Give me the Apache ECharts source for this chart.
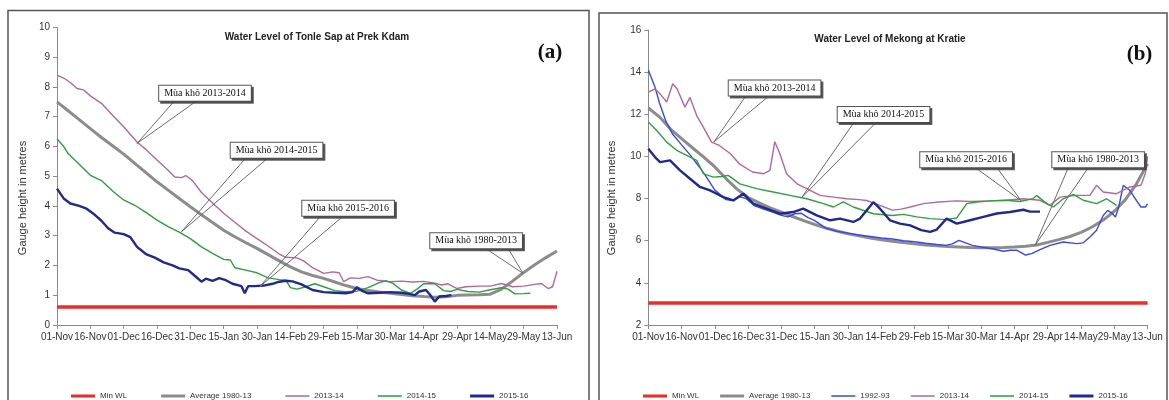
<!DOCTYPE html>
<html><head><meta charset="utf-8">
<script src="https://cdn.jsdelivr.net/npm/echarts@6/dist/echarts.min.js"></script>
<style>html,body{margin:0;padding:0;background:#fff}#c{width:1169px;height:400px}</style>
</head><body><div id="c"></div>
<script>
// ---- tick labels (x axis days from 01-Nov, every 15 days) ----
const tickLabels = ['01-Nov','16-Nov','01-Dec','16-Dec','31-Dec','15-Jan','30-Jan','14-Feb','29-Feb','15-Mar','30-Mar','14-Apr','29-Apr','14-May','29-May','13-Jun'];

// ---- (a) Tonle Sap at Prek Kdam : [day, metres] ----
const minWL_A = [[0,0.6],[225,0.6]];
const avg_A = [[0,7.5],[5,7.2],[10,6.9],[15,6.6],[20,6.3],[25,6.02],[30,5.74],[35,5.43],[40,5.12],[45,4.81],[50,4.53],[55,4.25],[60,3.97],[65,3.7],[70,3.44],[75,3.18],[80,2.96],[85,2.76],[90,2.57],[95,2.36],[100,2.15],[105,1.95],[110,1.78],[115,1.66],[120,1.56],[125,1.44],[130,1.32],[135,1.22],[140,1.15],[145,1.1],[150,1.06],[155,1.02],[160,0.98],[165,0.95],[170,0.93],[175,0.94],[180,0.99],[185,1.0],[190,1.01],[195,1.03],[200,1.2],[205,1.47],[210,1.76],[215,2.02],[220,2.26],[225,2.48]];
const y1314_A = [[0,8.4],[3,8.3],[6,8.15],[9,7.95],[12,7.9],[15,7.7],[20,7.45],[25,7.05],[30,6.66],[36,6.15],[40,5.9],[45,5.54],[50,5.2],[53,4.97],[56,4.95],[58,5.02],[61,4.85],[65,4.45],[70,4.1],[75,3.75],[80,3.45],[85,3.15],[90,2.9],[95,2.65],[100,2.38],[103,2.27],[108,2.25],[111,2.15],[115,1.92],[120,1.73],[124,1.78],[127,1.75],[129,1.45],[132,1.58],[136,1.56],[140,1.62],[144,1.5],[150,1.45],[155,1.47],[160,1.44],[165,1.46],[170,1.4],[173,1.34],[176,1.38],[180,1.22],[184,1.28],[190,1.3],[195,1.3],[200,1.39],[205,1.28],[210,1.3],[215,1.36],[218,1.39],[221,1.22],[223,1.28],[225,1.8]];
const y1415_A = [[0,6.26],[3,6.0],[5,5.76],[10,5.4],[15,5.03],[20,4.85],[25,4.5],[30,4.2],[35,4.02],[40,3.78],[45,3.52],[50,3.3],[55,3.12],[60,2.9],[65,2.62],[70,2.4],[75,2.2],[78,2.18],[80,1.92],[85,1.84],[90,1.75],[95,1.58],[100,1.52],[103,1.5],[105,1.25],[108,1.2],[112,1.28],[116,1.38],[120,1.28],[125,1.15],[130,1.11],[135,1.13],[140,1.25],[145,1.42],[148,1.48],[151,1.4],[155,1.17],[159,1.06],[162,1.2],[165,1.38],[170,1.38],[174,1.15],[177,1.12],[180,1.19],[185,1.12],[190,1.1],[195,1.18],[200,1.25],[203,1.2],[206,1.04],[210,1.05],[213,1.06]];
const y1516_A = [[0,4.58],[3,4.25],[6,4.08],[10,4.0],[13,3.92],[17,3.7],[20,3.5],[23,3.25],[26,3.1],[30,3.05],[33,2.95],[36,2.62],[40,2.38],[44,2.26],[48,2.1],[52,2.0],[55,1.9],[59,1.84],[62,1.65],[65,1.45],[67,1.55],[70,1.48],[73,1.57],[76,1.5],[79,1.38],[83,1.3],[84.5,1.06],[86,1.3],[89,1.3],[93,1.32],[97,1.38],[100,1.45],[103,1.48],[106,1.46],[110,1.36],[115,1.17],[120,1.1],[125,1.08],[130,1.06],[133,1.1],[135,1.26],[137,1.15],[140,1.06],[145,1.08],[150,1.1],[155,1.08],[158,1.05],[161,1.0],[163,1.12],[166,1.17],[168,1.0],[170,0.78],[172,0.95],[175,0.97],[177.5,1.0]];

// ---- (b) Mekong at Kratie : [day, metres] ----
const minWL_B = [[0,3.05],[225,3.05]];
const avg_B = [[0,12.3],[5,11.88],[10,11.3],[15,10.85],[20,10.4],[25,9.97],[30,9.5],[35,8.95],[40,8.45],[45,8.05],[50,7.8],[55,7.56],[60,7.36],[65,7.15],[70,6.95],[75,6.77],[80,6.6],[85,6.46],[90,6.33],[95,6.23],[100,6.13],[105,6.05],[110,5.97],[115,5.91],[120,5.85],[125,5.8],[130,5.76],[135,5.72],[140,5.7],[145,5.68],[150,5.67],[155,5.67],[160,5.68],[165,5.7],[170,5.74],[175,5.8],[180,5.92],[185,6.05],[190,6.2],[195,6.4],[200,6.65],[205,6.98],[210,7.4],[215,7.95],[220,8.7],[225,9.65]];
const y9293_B = [[0,14.1],[3,13.3],[5,12.55],[8,11.65],[11,11.05],[15,10.55],[19,10.05],[23,9.5],[26,9.05],[30,8.4],[35,7.95],[38,7.9],[41,8.1],[44,8.0],[48,7.65],[52,7.5],[56,7.36],[60,7.2],[63,7.13],[66,7.28],[69,7.3],[72,7.1],[75,6.95],[80,6.6],[85,6.45],[90,6.36],[95,6.27],[100,6.2],[105,6.13],[110,6.08],[115,6.0],[120,5.95],[125,5.88],[130,5.82],[134,5.78],[137,5.85],[140,6.02],[143,5.9],[146,5.78],[150,5.7],[155,5.62],[160,5.5],[163,5.55],[166,5.55],[170,5.32],[173,5.4],[176,5.55],[181,5.78],[187,5.94],[193,5.86],[196,5.9],[199,6.18],[202,6.5],[205,7.2],[207,7.44],[209,7.3],[210.5,7.13],[212,7.6],[214,8.63],[217,8.39],[220,7.9],[222,7.6],[224,7.6],[225,7.75]];
const y1314_B = [[0,13.05],[3,13.2],[5.3,12.97],[8.3,12.58],[11,13.45],[13,13.2],[16.5,12.34],[18.8,12.8],[21.8,11.94],[24.8,11.39],[28.5,10.68],[32,10.52],[37,10.13],[41,9.65],[47,9.26],[52,9.18],[54.8,9.34],[57,10.7],[59.3,10.13],[62.3,9.18],[67,8.7],[71.4,8.47],[77.4,8.15],[83.4,8.07],[89.4,7.99],[95,7.95],[98.4,7.91],[104.4,7.68],[110,7.45],[114,7.5],[118,7.6],[124,7.76],[131,7.84],[139,7.89],[145,7.86],[154,7.89],[161.5,7.92],[169,7.99],[176.5,7.92],[181,7.68],[185.5,8.07],[193,8.15],[199,8.15],[202,8.63],[205,8.31],[211,8.23],[217,8.55],[222,8.63],[224,9.2],[225,10.0]];
const y1415_B = [[0,11.63],[3.8,11.23],[8.3,10.68],[12.8,10.29],[17.3,10.05],[21.8,9.81],[24.8,9.18],[29.3,9.02],[33,9.05],[36,9.1],[41.3,8.7],[48.8,8.47],[56.3,8.31],[63.8,8.15],[71.4,7.99],[78.9,7.76],[83.4,7.6],[87.9,7.84],[92.4,7.6],[101.4,7.28],[110,7.2],[115,7.25],[121,7.13],[127,7.05],[134,7.0],[139,7.08],[143.5,7.76],[148,7.84],[154,7.89],[161.5,7.92],[167.5,7.86],[173.5,8.0],[175,8.15],[179.5,7.76],[182.5,7.6],[187,7.99],[191.5,8.2],[196,7.92],[202,7.76],[206.5,7.99],[211,7.68]];
const y1516_B = [[0,10.36],[3,9.97],[5.3,9.73],[9.8,9.81],[14.3,9.34],[18.8,8.94],[23.3,8.55],[27.8,8.39],[30.8,8.23],[33.8,8.07],[38.3,7.91],[42.8,8.23],[47.3,7.76],[53.3,7.52],[59.3,7.28],[65.3,7.36],[69.8,7.52],[75.9,7.2],[81.9,6.97],[86.4,7.05],[92.4,6.89],[95.4,7.05],[101.4,7.83],[104.4,7.52],[108.9,6.97],[113.4,6.81],[118,6.73],[123,6.5],[127,6.42],[130,6.53],[134.4,7.05],[139,6.81],[145,6.97],[151,7.13],[157,7.29],[163,7.36],[169,7.47],[172,7.38],[176.5,7.38]];

// ---- callout annotations (data coordinates) ----
const notesA = [
  {text:'Mùa khô 2013-2014', box:[66.6,7.79], from:[[53.1,7.55],[63.2,7.55]], to:[36,6.1]},
  {text:'Mùa khô 2014-2015', box:[98.8,5.87], from:[[85.3,5.64],[95.4,5.64]], to:[56,3.13]},
  {text:'Mùa khô 2015-2016', box:[131,3.92], from:[[118.4,3.63],[128.4,3.63]], to:[91.2,1.28]},
  {text:'Mùa khô 1980-2013', box:[188.6,2.83], from:[[192.8,2.57],[203,2.57]], to:[209.7,1.73]}
];
const notesB = [
  {text:'Mùa khô 2013-2014', box:[56.9,13.25], from:[[43.6,12.81],[53.7,12.81]], to:[29.5,10.68]},
  {text:'Mùa khô 2014-2015', box:[106,11.99], from:[[92.8,11.63],[102.8,11.63]], to:[69.1,8.04]},
  {text:'Mùa khô 2015-2016', box:[143.2,9.84], from:[[146.9,9.5],[156.9,9.5]], to:[168,7.9]},
  {text:'Mùa khô 1980-2013', box:[202.7,9.84], from:[[189.4,9.5],[198.5,9.5]], to:[174.3,5.78]}
];

const SANS = 'Liberation Sans, Arial, sans-serif';
const SERIF = 'Liberation Serif, Times New Roman, serif';
const C = {min:'#ee2b2b', avg:'#8c8c8c', p:'#b4679a', g:'#2f9e3c', b:'#1f2a8e', lb:'#3b48e8'};
// legend line icons: thick / thin bar centred in the 24x8 icon box
const THICK = 'path://M0,0h24v0.01h-24z M0,2.6h24v2.8h-24z M0,7.99h24v0.01h-24z';
const THIN = 'path://M0,0h24v0.01h-24z M0,3.2h24v1.6h-24z M0,7.99h24v0.01h-24z';
const iconOf = {'Min WL':THICK,'Average 1980-13':THICK,'1992-93':THIN,'2013-14':THIN,'2014-15':THIN,'2015-16':THICK};

function xAx(gi){
  return {type:'value', gridIndex:gi, min:0, max:225, interval:15,
    axisLine:{show:true,lineStyle:{color:'#8a8a8a',width:1}},
    axisTick:{show:true,length:4,lineStyle:{color:'#8a8a8a'}},
    splitLine:{show:false},
    axisLabel:{margin:7,fontSize:10,color:'#333',fontFamily:SANS,formatter:v=>tickLabels[Math.round(v/15)]||''}};
}
function yAx(gi,min,max,iv){
  return {type:'value', gridIndex:gi, min:min, max:max, interval:iv,
    axisLine:{show:true,lineStyle:{color:'#8a8a8a',width:1}},
    axisTick:{show:true,length:4,lineStyle:{color:'#8a8a8a'}},
    splitLine:{show:false},
    axisLabel:{margin:7,fontSize:10,color:'#333',fontFamily:SANS}};
}
function ln(name,data,color,w,gi){
  return {type:'line',name:name,data:data,xAxisIndex:gi,yAxisIndex:gi,symbol:'none',
    lineStyle:{color:color,width:w},itemStyle:{color:color},animation:false};
}
function notes(list,gi){
  return {type:'line',name:'_n'+gi,data:[],xAxisIndex:gi,yAxisIndex:gi,z:20,animation:false,
    markLine:{silent:true,symbol:['none','none'],label:{show:false},animation:false,
      lineStyle:{color:'#6a6a6a',width:1,type:'solid'},
      data:list.flatMap(n=>n.from.map(f=>[{coord:f},{coord:n.to}]))},
    markPoint:{silent:true,animation:false,
      data:list.map(n=>({coord:n.box,symbol:'rect',symbolSize:1,itemStyle:{color:'rgba(0,0,0,0)'},
        label:{show:true,position:'inside',formatter:n.text,fontFamily:SERIF,fontSize:10,color:'#111',
          backgroundColor:'#fff',borderColor:'#555',borderWidth:1,padding:[2,5,2,5],lineHeight:11,
          shadowColor:'rgba(70,70,70,0.85)',shadowOffsetX:2,shadowOffsetY:2,shadowBlur:0}}))}};
}
function legendOf(names,left,gap){
  return {data:names.map(n=>({name:n,icon:iconOf[n]})),left:left,top:387,itemGap:gap,itemWidth:24,itemHeight:8,
    textStyle:{fontSize:8,color:'#333',fontFamily:SANS},selectedMode:false};
}

const chart = echarts.init(document.getElementById('c'));
chart.setOption({
  animation:false,
  title:[
    {text:'Water Level of Tonle Sap at Prek Kdam',left:317,top:32,textAlign:'center',padding:0,
     textStyle:{fontSize:10,fontWeight:'bold',color:'#222',fontFamily:SANS}},
    {text:'Water Level of Mekong at Kratie',left:890,top:34,textAlign:'center',padding:0,
     textStyle:{fontSize:10,fontWeight:'bold',color:'#222',fontFamily:SANS}}
  ],
  grid:[
    {left:57,top:27.5,width:500,height:297.3},
    {left:648.3,top:30,width:499.3,height:295}
  ],
  xAxis:[xAx(0),xAx(1)],
  yAxis:[yAx(0,0,10,1),yAx(1,2,16,2)],
  legend:[
    legendOf(['Min WL','Average 1980-13','2013-14','2014-15','2015-16'],66,34),
    legendOf(['Min WL','Average 1980-13','1992-93','2013-14','2014-15','2015-16'],638,21)
  ],
  graphic:[
    {type:'rect',shape:{x:8,y:10.5,width:581,height:400},style:{fill:'none',stroke:'#555',lineWidth:1.5},silent:true},
    {type:'rect',shape:{x:599,y:13,width:568,height:400},style:{fill:'none',stroke:'#555',lineWidth:1.5},silent:true},
    {type:'text',x:22.5,y:198,rotation:Math.PI/2,silent:true,
     style:{text:'Gauge height in metres',fontSize:11,fill:'#333',fontFamily:SANS,align:'center',verticalAlign:'middle'}},
    {type:'text',x:612,y:198,rotation:Math.PI/2,silent:true,
     style:{text:'Gauge height in metres',fontSize:11,fill:'#333',fontFamily:SANS,align:'center',verticalAlign:'middle'}},
    {type:'text',x:550,y:53,silent:true,
     style:{text:'(a)',fontSize:21,fontWeight:'bold',fill:'#111',fontFamily:SERIF,align:'center',verticalAlign:'middle'}},
    {type:'text',x:1139.5,y:55,silent:true,
     style:{text:'(b)',fontSize:21,fontWeight:'bold',fill:'#111',fontFamily:SERIF,align:'center',verticalAlign:'middle'}}
  ],
  series:[
    ln('Min WL',minWL_A,C.min,3.5,0),
    ln('Average 1980-13',avg_A,C.avg,3,0),
    ln('2013-14',y1314_A,C.p,1.4,0),
    ln('2014-15',y1415_A,C.g,1.4,0),
    ln('2015-16',y1516_A,C.b,2.4,0),
    notes(notesA,0),
    ln('Min WL',minWL_B,C.min,3.5,1),
    ln('Average 1980-13',avg_B,C.avg,3,1),
    ln('1992-93',y9293_B,C.lb,1.4,1),
    ln('2013-14',y1314_B,C.p,1.4,1),
    ln('2014-15',y1415_B,C.g,1.4,1),
    ln('2015-16',y1516_B,C.b,2.4,1),
    notes(notesB,1)
  ]
});
</script></body></html>
